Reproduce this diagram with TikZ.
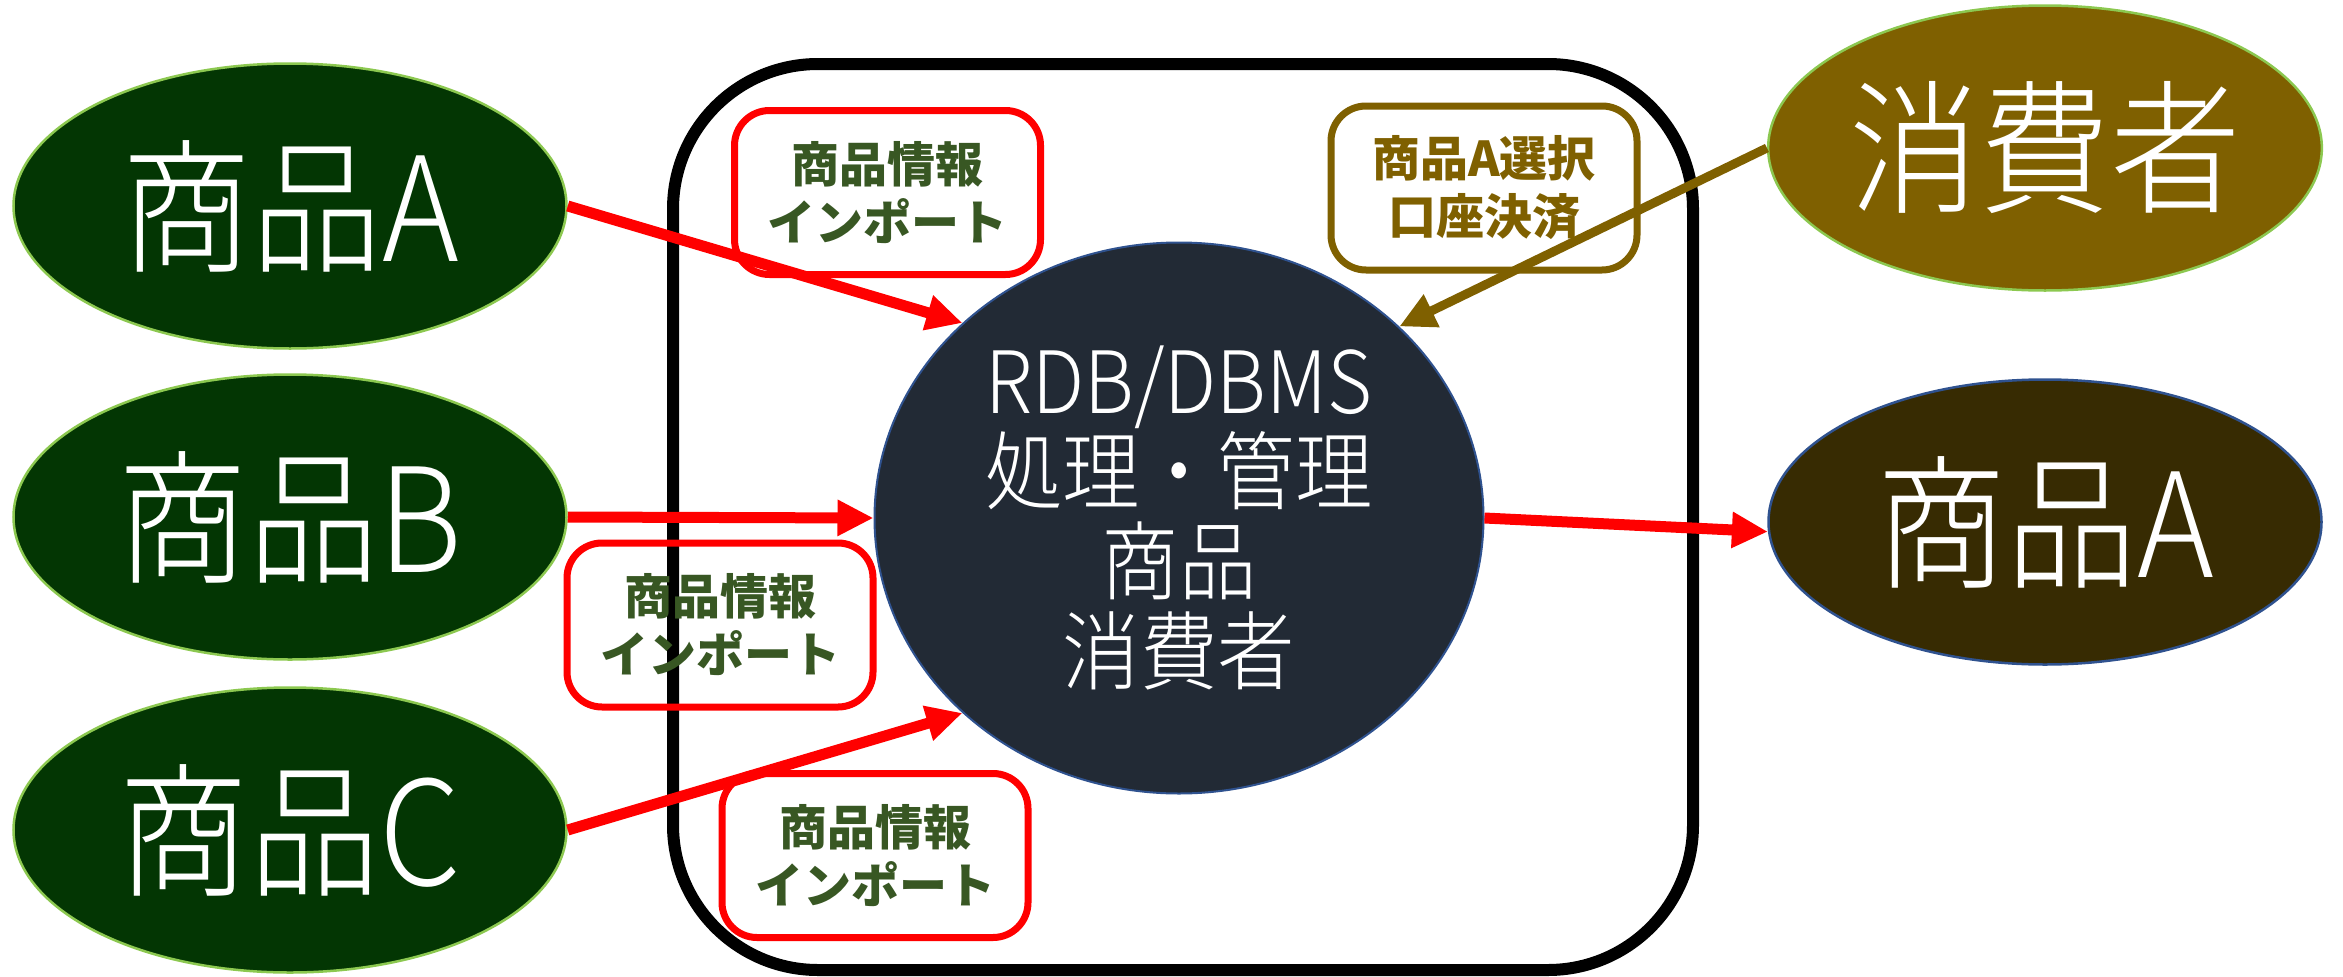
\documentclass[tikz,border=0pt]{standalone}
\usepackage{fontspec}
\setmainfont{Noto Sans CJK JP}
\newfontfamily\thinfont{Noto Sans CJK JP Light}[FakeStretch=0.9]
\usetikzlibrary{shapes.geometric,arrows.meta}
\definecolor{gfill}{RGB}{3,54,3}
\definecolor{gline}{RGB}{140,200,80}
\definecolor{cfill}{RGB}{127,96,0}
\definecolor{rfill}{RGB}{55,43,2}
\definecolor{bline}{RGB}{47,82,143}
\definecolor{navy}{RGB}{34,42,53}
\definecolor{lred}{RGB}{255,0,0}
\definecolor{lgreen}{RGB}{56,87,35}
\definecolor{brown}{RGB}{127,96,0}
\tikzset{
  bigell/.style={ellipse, inner sep=0pt, minimum width=553pt, minimum height=285pt, line width=2.5pt, text=white, font=\thinfont\fontsize{145}{160}\selectfont},
  lbl/.style={rectangle, rounded corners=35pt, line width=7pt, minimum width=306pt, minimum height=164pt, align=center, inner sep=0pt, font=\bfseries\fontsize{48}{58}\selectfont},
  arr/.style={line width=11pt, -{Triangle[length=36pt,width=34pt]}},
}
\begin{document}
\begin{tikzpicture}[x=1pt,y=-1pt]
\useasboundingbox (0,0) rectangle (2343,977);
% frame
\node[draw=black, line width=12pt, rounded corners=145pt, minimum width=1020pt, minimum height=906pt, inner sep=0pt] (frame) at (1183,517) {};
% ellipses
\node[bigell, fill=gfill, draw=gline] (pa) at (290,206) {商品A};
\node[bigell, fill=gfill, draw=gline] (pb) at (290,517) {商品B};
\node[bigell, fill=gfill, draw=gline] (pc) at (290,830) {商品C};
\node[bigell, fill=cfill, draw=gline] (cons) at (2045,148) {消費者};
\node[bigell, fill=rfill, draw=bline] (ra) at (2045,522) {商品A};
% database
\node[ellipse, inner sep=0pt, minimum width=609pt, minimum height=551pt, fill=navy, draw=bline, line width=2pt, text=white, align=center, font=\thinfont\fontsize{86}{90}\selectfont] (db) at (1179,518) {RDB/DBMS\\処理・管理\\商品\\消費者};
% labels
\node[lbl, draw=lred, text=lgreen] (l1) at (887.5,192.5) {商品情報\\インポート};
\node[lbl, draw=lred, text=lgreen] (l2) at (720,625) {商品情報\\インポート};
\node[lbl, draw=lred, text=lgreen] (l3) at (875,855.5) {商品情報\\インポート};
\node[lbl, draw=brown, text=brown] (l4) at (1484,188) {商品A選択\\口座決済};
% arrows
\draw[arr, lred] (pa.east) -- (db.138.6);
\draw[arr, lred] (pb.east) -- (db.west);
\draw[arr, lred] (pc.east) -- (db.222);
\draw[arr, lred] (db.east) -- (ra.182.8);
\draw[arr, brown, line width=9pt] (cons.west) -- (db.41.8);
\end{tikzpicture}
\end{document}
